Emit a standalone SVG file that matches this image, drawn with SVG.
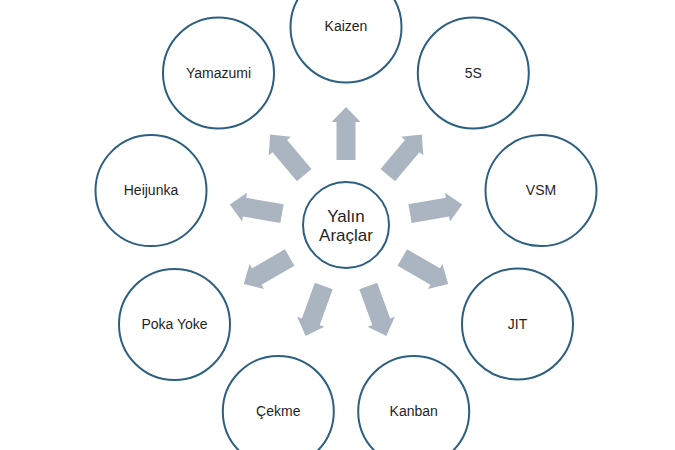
<svg xmlns="http://www.w3.org/2000/svg" width="675" height="450" viewBox="0 0 675 450">
<defs>
<style>
.node circle{fill:#fff;stroke:#2c5f80;stroke-width:2}
.node text{font-family:"Liberation Sans",Arial,sans-serif;font-size:14px;fill:#1f1f1f;text-anchor:middle}
.center text{font-size:17px}
.arrow{fill:#abb5c1}
</style>
<polygon id="arr" points="336.5,160 355.5,160 355.5,122 360.5,122 346,107 331.5,122 336.5,122"/>
</defs>
<rect width="675" height="450" fill="#fff"/>
<g id="connectors" class="arrow">
<use href="#arr"/>
<use href="#arr" transform="rotate(40 346 225)"/>
<use href="#arr" transform="rotate(80 346 225)"/>
<use href="#arr" transform="rotate(120 346 225)"/>
<use href="#arr" transform="rotate(160 346 225)"/>
<use href="#arr" transform="rotate(200 346 225)"/>
<use href="#arr" transform="rotate(240 346 225)"/>
<use href="#arr" transform="rotate(280 346 225)"/>
<use href="#arr" transform="rotate(320 346 225)"/>
</g>
<g id="center" class="node center"><circle cx="346" cy="225" r="43"/><text x="346" y="222">Yalın</text><text x="346" y="241">Araçlar</text></g>
<g id="kaizen" class="node"><circle cx="346" cy="27" r="55.5"/><text x="346" y="31">Kaizen</text></g>
<g id="s5" class="node"><circle cx="473.3" cy="73" r="55.5"/><text x="473.3" y="77.5">5S</text></g>
<g id="vsm" class="node"><circle cx="541" cy="190.6" r="55.5"/><text x="541" y="195">VSM</text></g>
<g id="jit" class="node"><circle cx="517.5" cy="324" r="55.5"/><text x="517.5" y="328.5">JIT</text></g>
<g id="kanban" class="node"><circle cx="413.7" cy="411.5" r="55.5"/><text x="413.7" y="416">Kanban</text></g>
<g id="cekme" class="node"><circle cx="278.3" cy="411.5" r="55.5"/><text x="278.3" y="416">Çekme</text></g>
<g id="pokayoke" class="node"><circle cx="174.5" cy="324.5" r="55.5"/><text x="174.5" y="329">Poka Yoke</text></g>
<g id="heijunka" class="node"><circle cx="151" cy="190.6" r="55.5"/><text x="151" y="195">Heijunka</text></g>
<g id="yamazumi" class="node"><circle cx="218.5" cy="73" r="55.5"/><text x="218.5" y="77.5">Yamazumi</text></g>
</svg>
